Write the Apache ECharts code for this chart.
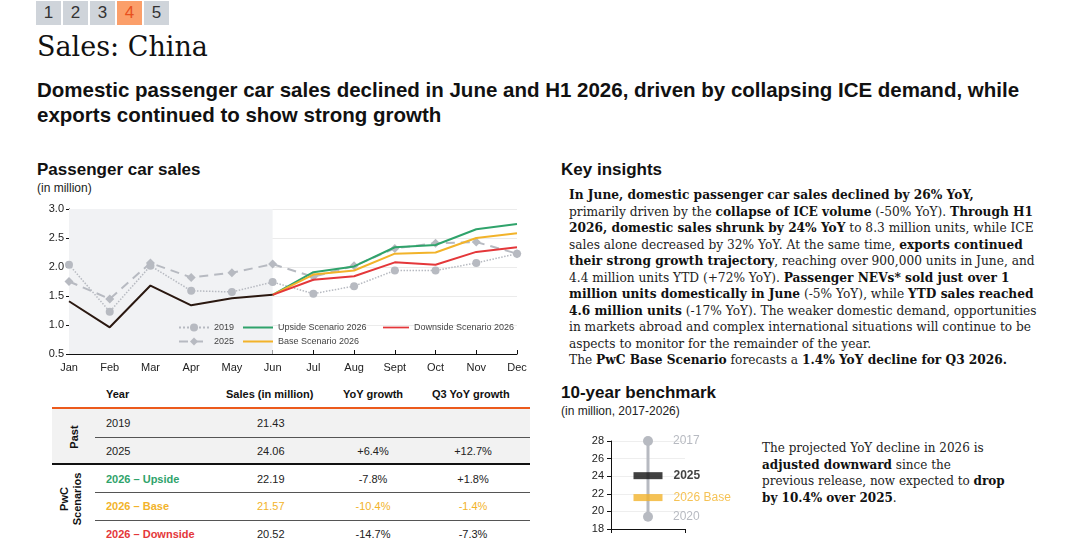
<!DOCTYPE html>
<html>
<head>
<meta charset="utf-8">
<script src="https://cdn.jsdelivr.net/npm/echarts@6/dist/echarts.min.js"></script>
<style>
  html, body { margin: 0; padding: 0; background: #fff; }
  body { width: 1080px; height: 556px; position: relative; overflow: hidden;
         font-family: "Liberation Sans", Arial, sans-serif; color: #111; }
  .abs { position: absolute; white-space: nowrap; }
  .pg { position: absolute; top: 1px; width: 25px; height: 24px; line-height: 24px;
        text-align: center; font-size: 17px; background: #cfd4da; color: #333; }
  .pg.on { background: #fb9f6a; color: #e8501e; }
  .serif { font-family: "DejaVu Serif", Georgia, serif; }
  .h2 { font-size: 17px; font-weight: bold; line-height: 20px; }
  .sub { font-size: 12px; line-height: 14px; color: #222; }
  #insights { left: 569px; top: 187px; font-size: 12.2px; line-height: 16.5px; color: #222; }
  #insights b, #bench-note b { color: #111; }
  .cell { position: absolute; font-size: 11px; line-height: 14px; white-space: nowrap; }
  .th { font-weight: bold; }
  .hline { position: absolute; height: 0; }
</style>
</head>
<body>

<div class="pg" style="left:36px">1</div>
<div class="pg" style="left:63px">2</div>
<div class="pg" style="left:90px">3</div>
<div class="pg on" style="left:117px">4</div>
<div class="pg" style="left:144px">5</div>

<div class="abs serif" style="left:37px;top:30px;font-size:27px;line-height:34px;color:#111">Sales: China</div>
<div class="abs" style="left:37px;top:77px;font-size:20.5px;line-height:25px;font-weight:bold">
Domestic passenger car sales declined in June and H1 2026, driven by collapsing ICE demand, while<br>
exports continued to show strong growth</div>

<div class="abs h2" style="left:37px;top:160px">Passenger car sales</div>
<div class="abs sub" style="left:37px;top:181px">(in million)</div>

<div class="abs h2" style="left:561px;top:160px">Key insights</div>
<div id="insights" class="abs serif">
<b>In June, domestic passenger car sales declined by 26% YoY,</b><br>
primarily driven by the <b>collapse of ICE volume</b> (-50% YoY). <b>Through H1</b><br>
<b>2026, domestic sales shrunk by 24% YoY</b> to 8.3 million units, while ICE<br>
sales alone decreased by 32% YoY. At the same time, <b>exports continued</b><br>
<b>their strong growth trajectory</b>, reaching over 900,000 units in June, and<br>
4.4 million units YTD (+72% YoY). <b>Passenger NEVs* sold just over 1</b><br>
<b>million units domestically in June</b> (-5% YoY), while <b>YTD sales reached</b><br>
<b>4.6 million units</b> (-17% YoY). The weaker domestic demand, opportunities<br>
in markets abroad and complex international situations will continue to be<br>
aspects to monitor for the remainder of the year.<br>
The <b>PwC Base Scenario</b> forecasts a <b>1.4% YoY decline for Q3 2026.</b>
</div>

<div class="abs h2" style="left:561px;top:383px">10-year benchmark</div>
<div class="abs sub" style="left:561px;top:404px">(in million, 2017-2026)</div>
<div id="bench-note" class="abs serif" style="left:762px;top:440px;font-size:12px;line-height:16.5px;color:#222">
The projected YoY decline in 2026 is<br>
<b>adjusted downward</b> since the<br>
previous release, now expected to <b>drop</b><br>
<b>by 10.4% over 2025</b>.
</div>

<div id="main" style="position:absolute;left:0;top:195px;width:540px;height:185px"></div>
<div id="bench" style="position:absolute;left:560px;top:425px;width:220px;height:120px"></div>
<div id="table"></div>

<script>
// monthly passenger car sales, million units
var months = ['Jan', 'Feb', 'Mar', 'Apr', 'May', 'Jun', 'Jul', 'Aug', 'Sept', 'Oct', 'Nov', 'Dec'];
var sales2019 = [2.04, 1.23, 2.02, 1.59, 1.57, 1.74, 1.54, 1.67, 1.94, 1.94, 2.07, 2.23];
var sales2025 = [1.75, 1.45, 2.07, 1.82, 1.90, 2.05, 1.83, 2.02, 2.32, 2.41, 2.43, 2.23];
var sales2026 = [1.41, 0.96, 1.68, 1.34, 1.46, 1.52];
var upside2026 = [null, null, null, null, null, 1.52, 1.91, 2.01, 2.34, 2.38, 2.65, 2.74];
var base2026 = [null, null, null, null, null, 1.52, 1.87, 1.94, 2.23, 2.25, 2.50, 2.58];
var downside2026 = [null, null, null, null, null, 1.52, 1.78, 1.84, 2.08, 2.04, 2.26, 2.34];

// table
var tableHeads = ['Year', 'Sales (in million)', 'YoY growth', 'Q3 YoY growth'];
var tableYears = ['2019', '2025', '2026 \u2013 Upside', '2026 \u2013 Base', '2026 \u2013 Downside'];
var tableSales = ['21.43', '24.06', '22.19', '21.57', '20.52'];
var tableYoY = ['', '+6.4%', '-7.8%', '-10.4%', '-14.7%'];
var tableQ3 = ['', '+12.7%', '+1.8%', '-1.4%', '-7.3%'];

// 10-year benchmark
var benchYears = ['2017', '2020', '2025', '2026 Base'];
var benchValues = [28.0, 19.4, 24.06, 21.57];

var GREEN = '#2fa36b', YELLOW = '#f2b32a', RED = '#e4373a', GREY = '#b7bac1', DARK = '#2a1810';
var FONT = '"Liberation Sans", Arial, sans-serif';
var legendText = { fontSize: 9, color: '#444' };
var lineIcon = 'path://M0,0 L30,0 L30,2 L0,2 Z';

var chart = echarts.init(document.getElementById('main'));
chart.setOption({
    animation: false,
    textStyle: { fontFamily: FONT },
    grid: { left: 69, right: 23, top: 14, bottom: 26 },
    legend: [
        { left: 173, top: 123, orient: 'vertical', itemGap: 5, itemWidth: 30, itemHeight: 10,
          textStyle: legendText, data: ['2019', '2025'] },
        { left: 238, top: 123, orient: 'vertical', itemGap: 5, itemWidth: 30, itemHeight: 10,
          textStyle: legendText,
          data: [{ name: 'Upside Scenario 2026', icon: lineIcon }, { name: 'Base Scenario 2026', icon: lineIcon }] },
        { left: 378, top: 123, orient: 'vertical', itemGap: 5, itemWidth: 26, itemHeight: 10,
          textStyle: legendText,
          data: [{ name: 'Downside Scenario 2026', icon: lineIcon }] }
    ],
    xAxis: {
        type: 'category',
        data: months,
        boundaryGap: false,
        axisLine: { lineStyle: { color: '#111', width: 1 } },
        axisTick: { inside: true, length: 4, lineStyle: { color: '#111' } },
        axisLabel: { fontSize: 11, color: '#222', margin: 8 }
    },
    yAxis: {
        type: 'value',
        min: 0.5,
        max: 3.0,
        interval: 0.5,
        axisLine: { show: true, lineStyle: { color: '#111' } },
        axisTick: { show: true, length: 3, lineStyle: { color: '#111' } },
        axisLabel: { fontSize: 11, color: '#222', margin: 5,
            formatter: function (v) { return v.toFixed(1); } },
        splitLine: { lineStyle: { color: '#ebebeb' } }
    },
    series: [
        {
            name: '2019', type: 'line', data: sales2019,
            symbol: 'circle', symbolSize: 8,
            lineStyle: { color: GREY, width: 1.5, type: 'dotted' },
            itemStyle: { color: GREY },
            markArea: {
                silent: true,
                itemStyle: { color: '#f1f2f4' },
                data: [[{ xAxis: 'Jan' }, { xAxis: 'Jun' }]]
            },
            z: 2
        },
        {
            name: '2025', type: 'line', data: sales2025,
            symbol: 'diamond', symbolSize: 9,
            lineStyle: { color: GREY, width: 2, type: [9, 6] },
            itemStyle: { color: GREY },
            z: 3
        },
        {
            name: '2026', type: 'line', data: sales2026,
            symbol: 'none',
            lineStyle: { color: DARK, width: 2 },
            z: 5
        },
        {
            name: 'Upside Scenario 2026', type: 'line', data: upside2026,
            symbol: 'none', lineStyle: { color: GREEN, width: 2 }, itemStyle: { color: GREEN }, z: 4
        },
        {
            name: 'Base Scenario 2026', type: 'line', data: base2026,
            symbol: 'none', lineStyle: { color: YELLOW, width: 2 }, itemStyle: { color: YELLOW }, z: 4
        },
        {
            name: 'Downside Scenario 2026', type: 'line', data: downside2026,
            symbol: 'none', lineStyle: { color: RED, width: 2 }, itemStyle: { color: RED }, z: 4
        }
    ]
});

// benchmark: range line from the max to the min year, bars for 2025 and 2026 base
var benchColors = [GREY, GREY, '#111', YELLOW];
var bench = echarts.init(document.getElementById('bench'));
bench.setOption({
    animation: false,
    textStyle: { fontFamily: FONT },
    grid: { left: 51, top: 16, width: 74, height: 88 },
    xAxis: {
        type: 'value', min: 0, max: 1, interval: 1,
        axisLine: { lineStyle: { color: '#111' } },
        axisTick: { show: true, length: 4, lineStyle: { color: '#111' } },
        axisLabel: { show: false },
        splitLine: { show: false }
    },
    yAxis: {
        type: 'value', min: 18, max: 28, interval: 2,
        axisLine: { show: true, lineStyle: { color: '#111' } },
        axisTick: { show: true, length: 4, lineStyle: { color: '#111' } },
        axisLabel: { fontSize: 11, color: '#222', margin: 7 },
        splitLine: { lineStyle: { color: '#eeeeee' } }
    },
    series: [
        {
            type: 'line',
            data: [[0.5, benchValues[0]], [0.5, benchValues[1]]],
            symbol: 'circle', symbolSize: 10,
            lineStyle: { color: GREY, width: 3 },
            itemStyle: { color: GREY },
            label: {
                show: true, position: 'right', distance: 20, fontSize: 12, color: GREY,
                formatter: function (p) { return benchYears[p.dataIndex]; }
            },
            z: 2
        },
        {
            type: 'scatter',
            data: [[0.5, benchValues[2]], [0.5, benchValues[3]]],
            symbol: 'rect', symbolSize: [29, 7],
            itemStyle: { color: function (p) { return benchColors[p.dataIndex + 2]; } },
            label: {
                show: true, position: 'right', distance: 11, fontSize: 12,
                formatter: function (p) { return p.dataIndex === 0 ? '{k|' + benchYears[2] + '}' : '{y|' + benchYears[3] + '}'; },
                rich: {
                    k: { fontSize: 12, fontWeight: 'bold', color: '#111', fontFamily: FONT },
                    y: { fontSize: 12, color: YELLOW, fontFamily: FONT }
                }
            },
            z: 3
        }
    ]
});

// table built from the arrays
(function () {
    var t = document.getElementById('table');
    var html = '';
    var headX = [106, 226, 343, 432];
    var rowY = [423, 451, 479, 506, 534];
    var yearColors = ['#222', '#222', GREEN, YELLOW, RED];
    html += '<div style="position:absolute;left:52px;top:409px;width:478px;height:55px;background:#f2f2f2"></div>';
    html += '<div class="hline" style="left:52px;top:407px;width:478px;border-top:2px solid #ec5a1c"></div>';
    html += '<div class="hline" style="left:52px;top:463px;width:478px;border-top:2px solid #111"></div>';
    [437, 492, 520].forEach(function (y) {
        html += '<div class="hline" style="left:95px;top:' + y + 'px;width:435px;border-top:1px solid #555"></div>';
    });
    tableHeads.forEach(function (h, i) {
        html += '<div class="cell th" style="left:' + headX[i] + 'px;top:387px">' + h + '</div>';
    });
    tableYears.forEach(function (yr, i) {
        var top = rowY[i] - 7;
        var isBase = i === 3;
        var valColor = isBase ? YELLOW : '#222';
        html += '<div class="cell" style="left:106px;top:' + top + 'px;color:' + yearColors[i] +
            ';font-weight:' + (i > 1 ? 'bold' : 'normal') + '">' + yr + '</div>';
        html += '<div class="cell" style="left:257px;top:' + top + 'px;color:' + valColor + '">' + tableSales[i] + '</div>';
        html += '<div class="cell" style="left:333px;width:80px;text-align:center;top:' + top + 'px;color:' + valColor + '">' + tableYoY[i] + '</div>';
        html += '<div class="cell" style="left:433px;width:80px;text-align:center;top:' + top + 'px;color:' + valColor + '">' + tableQ3[i] + '</div>';
    });
    html += '<div class="cell th" style="left:74px;top:437px;transform:translate(-50%,-50%) rotate(-90deg)">Past</div>';
    html += '<div class="cell th" style="left:71px;top:499px;line-height:13px;text-align:center;transform:translate(-50%,-50%) rotate(-90deg)">PwC<br>Scenarios</div>';
    t.innerHTML = html;
})();
</script>
</body>
</html>
